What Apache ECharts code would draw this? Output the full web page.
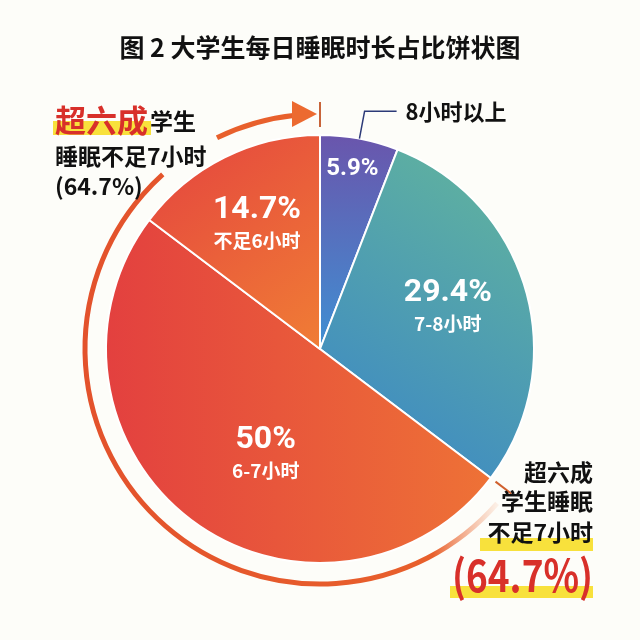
<!DOCTYPE html>
<html>
<head>
<meta charset="utf-8">
<script src="https://cdn.jsdelivr.net/npm/echarts@6/dist/echarts.min.js"></script>
<style>
html, body { margin: 0; padding: 0; background: #fdfdf9; }
#main { width: 640px; height: 640px; }
</style>
</head>
<body>
<div id="main"></div>
<script>
// 数据：每日睡眠时长占比（%）
var categories = ['8小时以上', '7-8小时', '6-7小时', '不足6小时'];
var shares = [5.9, 29.4, 50, 14.7];
var shortShare = 64.7; // 不足7小时合计

var myChart = echarts.init(document.getElementById('main'));

var FONT = '"Noto Sans CJK SC", "Noto Sans", sans-serif';
var cx = 320, cy = 349, R = 214, arcR = 235;

function grad(x, y, x2, y2, c1, c2) {
	return new echarts.graphic.LinearGradient(x, y, x2, y2, [
		{ offset: 0, color: c1 },
		{ offset: 1, color: c2 }
	]);
}
var sliceColors = [
	grad(0, 0, 0, 1, '#6a55ac', '#3f90d3'),
	grad(0, 1, 1, 0, '#3984c9', '#64b79a'),
	grad(0, 0, 1, 0, '#e3403f', '#ee7236'),
	grad(0, 0, 1, 1, '#e4433f', '#f07d35')
];
// 标签微调
var labelShift = [
	{ dx: 12, dy: -72 },
	{ dx: 22, dy: -13 },
	{ dx: 12, dy: 16 },
	{ dx: -14, dy: -28 }
];

// 角度换算：从正上方顺时针的度数 -> 画布弧度
function rad(deg) { return (deg - 90) * Math.PI / 180; }
var startDeg = (100 - shortShare) / 100 * 360;

function arcPiece(a, b, stroke) {
	return {
		type: 'arc',
		shape: { cx: cx, cy: cy, r: arcR, startAngle: rad(a), endAngle: rad(b), clockwise: true },
		style: { stroke: stroke, lineWidth: 5, fill: null },
		z: 1
	};
}
function label(txt, x, y, size, color, align) {
	return {
		type: 'text',
		z: 10,
		style: {
			text: txt, x: x, y: y, fill: color,
			fontSize: size, fontWeight: 'bold', fontFamily: FONT,
			textAlign: align, align: align,
			textVerticalAlign: 'middle', verticalAlign: 'middle'
		}
	};
}
function bar(x, y, w, h) {
	return { type: 'rect', z: 5, shape: { x: x, y: y, width: w, height: h }, style: { fill: '#f8e13c' } };
}

var tickIn = R + 6, tickOut = R + 26;
var t = startDeg * Math.PI / 180;

var fadeArc = new echarts.graphic.LinearGradient(0, 0, 1, 0, [
	{ offset: 0, color: '#e3522c' },
	{ offset: 0.84, color: '#e8602c' },
	{ offset: 1, color: 'rgba(240,140,90,0.08)' }
]);

var bigPct = label('(' + shortShare + '%)', 593, 575, 44, '#d8302a', 'right');
bigPct.scaleX = 0.84;
bigPct.originX = 593;
bigPct.originY = 575;

option = {
	backgroundColor: '#fdfdf9',
	title: {
		text: '图 2 大学生每日睡眠时长占比饼状图',
		left: 'center',
		top: 30,
		textStyle: { fontSize: 25, fontWeight: 'bold', color: '#111', fontFamily: FONT }
	},
	series: [{
		name: '睡眠时长',
		type: 'pie',
		center: [cx, cy],
		radius: R,
		startAngle: 90,
		clockwise: true,
		emphasis: { scale: false },
		itemStyle: { borderColor: '#fff', borderWidth: 2 },
		label: {
			show: true,
			position: 'inside',
			formatter: function (p) {
				if (p.dataIndex === 0) return '{s|' + p.value + '%}';
				return '{p|' + p.value + '%}\n{n|' + p.name + '}';
			},
			rich: {
				s: { fontSize: 24, fontWeight: 'bold', color: '#fff', fontFamily: 'Roboto' },
				p: { fontSize: 32, fontWeight: 'bold', color: '#fff', fontFamily: 'Roboto', lineHeight: 36 },
				n: { fontSize: 19, fontWeight: 'bold', color: '#fff', fontFamily: FONT, lineHeight: 26 }
			}
		},
		labelLine: { show: false },
		labelLayout: function (p) { return labelShift[p.dataIndex]; },
		data: categories.map(function (c, i) {
			return { name: c, value: shares[i], itemStyle: { color: sliceColors[i] } };
		})
	}, {
		// 外部引线标签（8小时以上）
		name: '引线',
		type: 'pie',
		center: [cx, cy],
		radius: R,
		silent: true,
		z: 3,
		itemStyle: { color: 'rgba(0,0,0,0)', borderWidth: 0 },
		label: { show: false },
		labelLine: { show: false },
		data: categories.map(function (c, i) {
			var d = { name: c, value: shares[i] };
			if (i === 0) {
				d.label = { show: true, position: 'outside', formatter: '{b}', fontSize: 22, fontWeight: 'bold', color: '#111', fontFamily: FONT, padding: [0, 0, 0, 4] };
				d.labelLine = { show: true, length: 28, length2: 32, lineStyle: { color: '#2c3a78', width: 1.5 } };
			}
			return d;
		})
	}],
	graphic: [
		// 不足7小时 的外弧与箭头
		arcPiece(startDeg + 4, 318, fadeArc),
		arcPiece(334, 354, '#e8602c'),
		{
			type: 'polygon', z: 2,
			shape: { points: [[cx - 3, cy - arcR], [cx - 28, cy - arcR - 13], [cx - 28, cy - arcR + 13]] },
			style: { fill: '#ec6a30' }
		},
		{
			type: 'line', z: 2,
			shape: { x1: cx, y1: cy - arcR - 12, x2: cx, y2: cy - arcR + 13 },
			style: { stroke: '#c8643a', lineWidth: 2 }
		},
		{
			type: 'line', z: 2,
			shape: {
				x1: cx + tickIn * Math.sin(t), y1: cy - tickIn * Math.cos(t),
				x2: cx + tickOut * Math.sin(t), y2: cy - tickOut * Math.cos(t)
			},
			style: { stroke: '#d0602e', lineWidth: 2 }
		},
		// 左上注释
		bar(53, 121, 98, 14),
		label('超六成', 55, 120, 31, '#d8302a', 'left'),
		label('学生', 150, 121, 23, '#111', 'left'),
		label('睡眠不足7小时', 55, 156, 23, '#111', 'left'),
		label('(' + shortShare + '%)', 55, 186, 23, '#111', 'left'),
		// 右下注释
		bar(480, 538, 113, 13),
		bar(450, 586, 143, 12),
		label('超六成', 593, 472, 23, '#111', 'right'),
		label('学生睡眠', 593, 501, 23, '#111', 'right'),
		label('不足7小时', 593, 532, 23, '#111', 'right'),
		bigPct
	]
};

myChart.setOption(option);
</script>
</body>
</html>
